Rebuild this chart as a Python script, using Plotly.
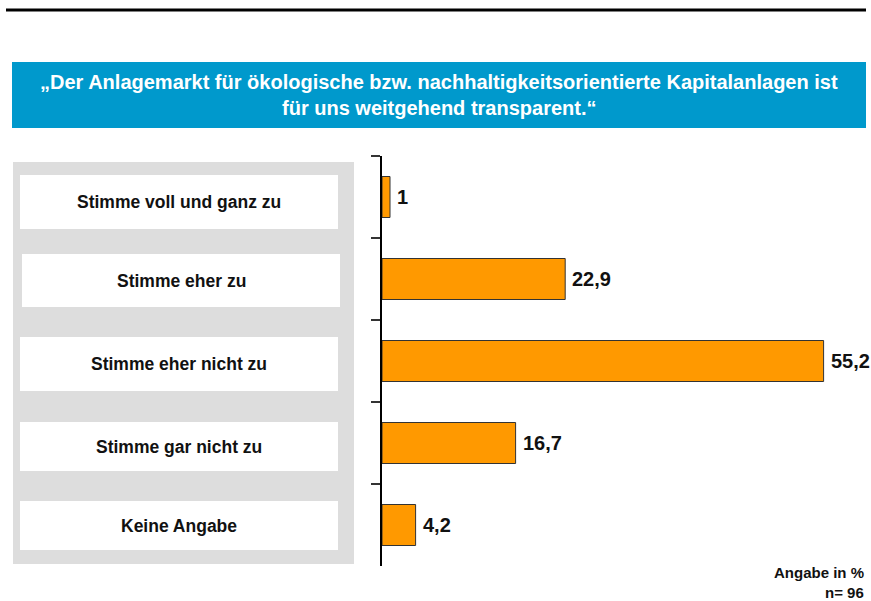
import plotly.graph_objects as go

categories = ["Stimme voll und ganz zu", "Stimme eher zu", "Stimme eher nicht zu",
              "Stimme gar nicht zu", "Keine Angabe"]
values = [1, 22.9, 55.2, 16.7, 4.2]
title_lines = ["„Der Anlagemarkt für ökologische bzw. nachhaltigkeitsorientierte Kapitalanlagen ist",
               "für uns weitgehend transparent.“"]
footnote = ["Angabe in %", "n= 96"]

W, H = 871, 601
L, R, T, B = 382, 9, 156, 35
PW, PH = W - L - R, H - T - B

def px(x):
    return (x - L) / PW

def py(y):
    return 1 - (y - T) / PH

FONT = "Arial, Liberation Sans, Helvetica, sans-serif"

fig = go.Figure()
fig.add_trace(go.Bar(
    y=categories, x=values, orientation="h",
    width=0.5,
    marker=dict(color="#FF9900", line=dict(color="#333333", width=1)),
    hoverinfo="x+y",
))

shapes = []
annotations = []
# value labels next to bar ends
for c, v in zip(categories, values):
    annotations.append(dict(xref="x", yref="y", x=v, y=c, xshift=5,
                            text=f"{v:g}".replace(".", ","), showarrow=False,
                            xanchor="left", yanchor="middle",
                            font=dict(family=FONT, size=20, color="#111111", weight="bold")))
# top black rule
shapes.append(dict(type="line", xref="paper", yref="paper", x0=px(6), x1=px(866),
                   y0=py(10), y1=py(10), line=dict(color="black", width=3)))
# blue title box
shapes.append(dict(type="rect", xref="paper", yref="paper", x0=px(12), x1=px(866),
                   y0=py(62), y1=py(128), fillcolor="#0099CC", line=dict(width=0), layer="below"))
for i, t in enumerate(title_lines):
    annotations.append(dict(xref="paper", yref="paper", x=px(439), y=py(82 + 26 * i),
                            text=t, showarrow=False, xanchor="center", yanchor="middle",
                            font=dict(family=FONT, size=20, color="white", weight="bold")))
# gray label panel
shapes.append(dict(type="rect", xref="paper", yref="paper", x0=px(13), x1=px(354),
                   y0=py(162), y1=py(564), fillcolor="#DDDDDD", line=dict(width=0), layer="below"))
box_tops = [175, 254, 337, 422, 501]
box_bots = [229, 307, 391, 471, 550]
box_x0 = [20, 22, 20, 20, 20]
for i, c in enumerate(categories):
    shapes.append(dict(type="rect", xref="paper", yref="paper", x0=px(box_x0[i]), x1=px(box_x0[i] + 318),
                       y0=py(box_tops[i]), y1=py(box_bots[i]), fillcolor="white",
                       line=dict(width=0), layer="below"))
    annotations.append(dict(xref="paper", yref="paper", x=px(box_x0[i] + 159),
                            y=py((box_tops[i] + box_bots[i]) / 2),
                            text=c, showarrow=False, xanchor="center", yanchor="middle",
                            font=dict(family=FONT, size=17.5, color="#111111", weight="bold")))
for i, t in enumerate(footnote):
    annotations.append(dict(xref="paper", yref="paper", x=px(866), y=py(572 + 20 * i),
                            text=t, showarrow=False, xanchor="right", yanchor="middle",
                            font=dict(family=FONT, size=15, color="#111111", weight="bold")))

fig.update_layout(
    width=W, height=H, margin=dict(l=L, r=R, t=T, b=B, pad=0),
    paper_bgcolor="white", plot_bgcolor="white",
    showlegend=False,
    shapes=shapes, annotations=annotations,
    xaxis=dict(range=[0, 60], visible=False, fixedrange=True),
    yaxis=dict(categoryorder="array", categoryarray=categories, autorange="reversed",
               showticklabels=False, showline=True, linecolor="black", linewidth=1.5,
               ticks="outside", tickson="boundaries", ticklen=9, tickcolor="#333333",
               tickwidth=1.5, showgrid=False, zeroline=False, fixedrange=True),
    bargap=0.5,
)

fig.write_html("out.html", config={"displayModeBar": False},
               post_script="document.body.style.margin='0px';document.body.style.overflow='hidden';")
